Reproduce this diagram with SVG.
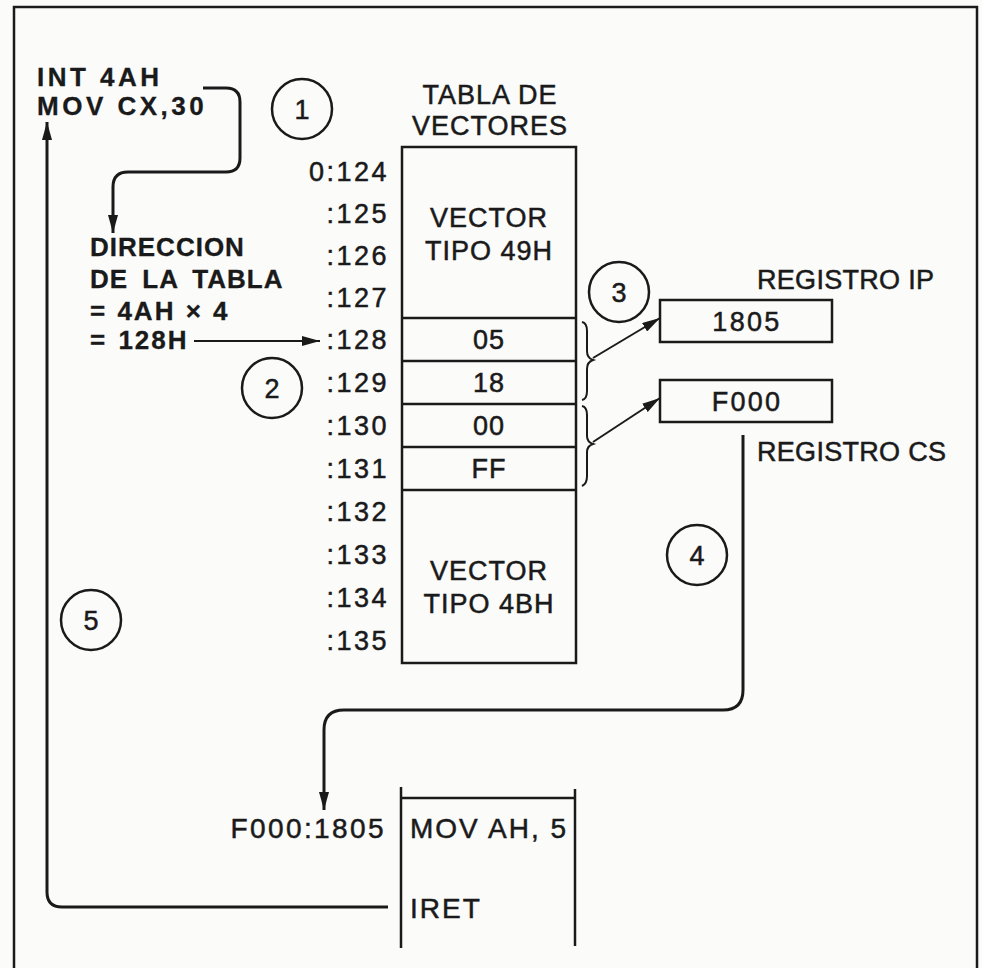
<svg xmlns="http://www.w3.org/2000/svg" width="982" height="968" viewBox="0 0 982 968">
<defs>
<style>
text{font-family:"Liberation Sans",Arial,sans-serif;fill:#1a1a1a;stroke:#1a1a1a;stroke-width:0.5px}
.b{font-weight:bold;stroke-width:0.3px}
.blk1{font-size:26px;letter-spacing:3.5px}
.blk2{font-size:26px;letter-spacing:1px;word-spacing:6px}
.addr{font-size:27px;letter-spacing:2.5px;text-anchor:end}
.cell{font-size:27px;letter-spacing:1px;text-anchor:middle}
.reg{font-size:27px;letter-spacing:0.3px}
.num{font-size:27px;text-anchor:middle}
.code{font-size:28px;letter-spacing:2px}
.ln{fill:none;stroke:#1a1a1a;stroke-width:2.5}
.con{fill:none;stroke:#1a1a1a;stroke-width:3}
.thin{fill:none;stroke:#1a1a1a;stroke-width:2}
.circ{fill:none;stroke:#1a1a1a;stroke-width:2.5}
</style>
<marker id="ah" markerUnits="userSpaceOnUse" markerWidth="18" markerHeight="10" refX="18" refY="5" orient="auto">
<path d="M0,0 L18,5 L0,10 z" fill="#1a1a1a"/>
</marker>
</defs>
<rect x="0" y="0" width="982" height="968" fill="#fbfbfa"/>
<path class="ln" d="M14,968 V7 H977 V968"/>

<g id="instr">
<text class="b blk1" x="37" y="86">INT 4AH</text>
<text class="b blk1" x="37" y="115">MOV CX,30</text>
</g>

<g id="direccion">
<text class="b blk2" x="90" y="256">DIRECCION</text>
<text class="b blk2" x="90" y="288">DE LA TABLA</text>
<text class="b blk2" x="90" y="320" style="word-spacing:1px;letter-spacing:2px">= 4AH × 4</text>
<text class="b blk2" x="90" y="349" style="word-spacing:2px;letter-spacing:2px">= 128H</text>
</g>

<g id="c1"><circle class="circ" cx="302" cy="109" r="30"/><text class="num" x="302" y="119">1</text></g>
<g id="c2"><circle class="circ" cx="272" cy="388" r="30"/><text class="num" x="272" y="398">2</text></g>
<g id="c3"><circle class="circ" cx="619" cy="292" r="30"/><text class="num" x="619" y="302">3</text></g>
<g id="c4"><circle class="circ" cx="697" cy="555" r="30"/><text class="num" x="697" y="565">4</text></g>
<g id="c5"><circle class="circ" cx="91" cy="620" r="30"/><text class="num" x="91" y="630">5</text></g>

<g id="tabla">
<text class="cell" x="490" y="104">TABLA DE</text>
<text class="cell" x="490" y="135">VECTORES</text>
<rect class="ln" x="402" y="147" width="174" height="516"/>
<path class="ln" d="M402,318 H576 M402,361 H576 M402,404 H576 M402,447 H576 M402,490 H576"/>
<text class="cell" x="489" y="227">VECTOR</text>
<text class="cell" x="489" y="260">TIPO 49H</text>
<text class="cell" x="489" y="349">05</text>
<text class="cell" x="489" y="392">18</text>
<text class="cell" x="489" y="435">00</text>
<text class="cell" x="489" y="478">FF</text>
<text class="cell" x="489" y="580">VECTOR</text>
<text class="cell" x="489" y="613">TIPO 4BH</text>
</g>

<g id="direcciones">
<text class="addr" x="389" y="181">0:124</text>
<text class="addr" x="389" y="223">:125</text>
<text class="addr" x="389" y="265">:126</text>
<text class="addr" x="389" y="307">:127</text>
<text class="addr" x="389" y="349">:128</text>
<text class="addr" x="389" y="392">:129</text>
<text class="addr" x="389" y="435">:130</text>
<text class="addr" x="389" y="478">:131</text>
<text class="addr" x="389" y="521">:132</text>
<text class="addr" x="389" y="564">:133</text>
<text class="addr" x="389" y="607">:134</text>
<text class="addr" x="389" y="650">:135</text>
</g>

<g id="reg-ip">
<text class="reg" x="757" y="289">REGISTRO IP</text>
<rect class="ln" x="660" y="300" width="172" height="42"/>
<text class="cell" x="747" y="331" style="letter-spacing:2.3px">1805</text>
</g>

<g id="reg-cs">
<rect class="ln" x="660" y="380" width="172" height="42"/>
<text class="cell" x="747" y="411" style="letter-spacing:2.3px">F000</text>
<text class="reg" x="757" y="461">REGISTRO CS</text>
</g>

<g id="rutina">
<text class="code" x="386" y="838" text-anchor="end" style="letter-spacing:2.4px">F000:1805</text>
<path class="ln" d="M401,787 V948 M575,789 V946 M401,798 H575"/>
<text class="code" x="410" y="838">MOV AH, 5</text>
<text class="code" x="410" y="918">IRET</text>
</g>

<g id="conectores">
<path class="con" d="M203,88 H226 Q240,88 240,102 V158 Q240,172 226,172 H128 Q113,172 113,187 V233" marker-end="url(#ah)"/>
<path class="thin" d="M194,341 H320" marker-end="url(#ah)"/>
<path class="thin" d="M582,322 Q587,323 587,331 V351 Q587,358 593,360 Q587,362 587,369 V391 Q587,399 582,400"/>
<path class="thin" d="M582,406 Q587,407 587,415 V436 Q587,442 593,444 Q587,446 587,452 V476 Q587,484 582,486"/>
<path class="thin" d="M593,358 L660,318" marker-end="url(#ah)"/>
<path class="thin" d="M593,442 L660,398" marker-end="url(#ah)"/>
<path class="con" d="M743,435 V690 Q743,710 723,710 H344 Q324,710 324,730 V810" marker-end="url(#ah)"/>
<path class="con" d="M388,907 H62 Q47,907 47,892 V122" marker-end="url(#ah)"/>
</g>
</svg>
